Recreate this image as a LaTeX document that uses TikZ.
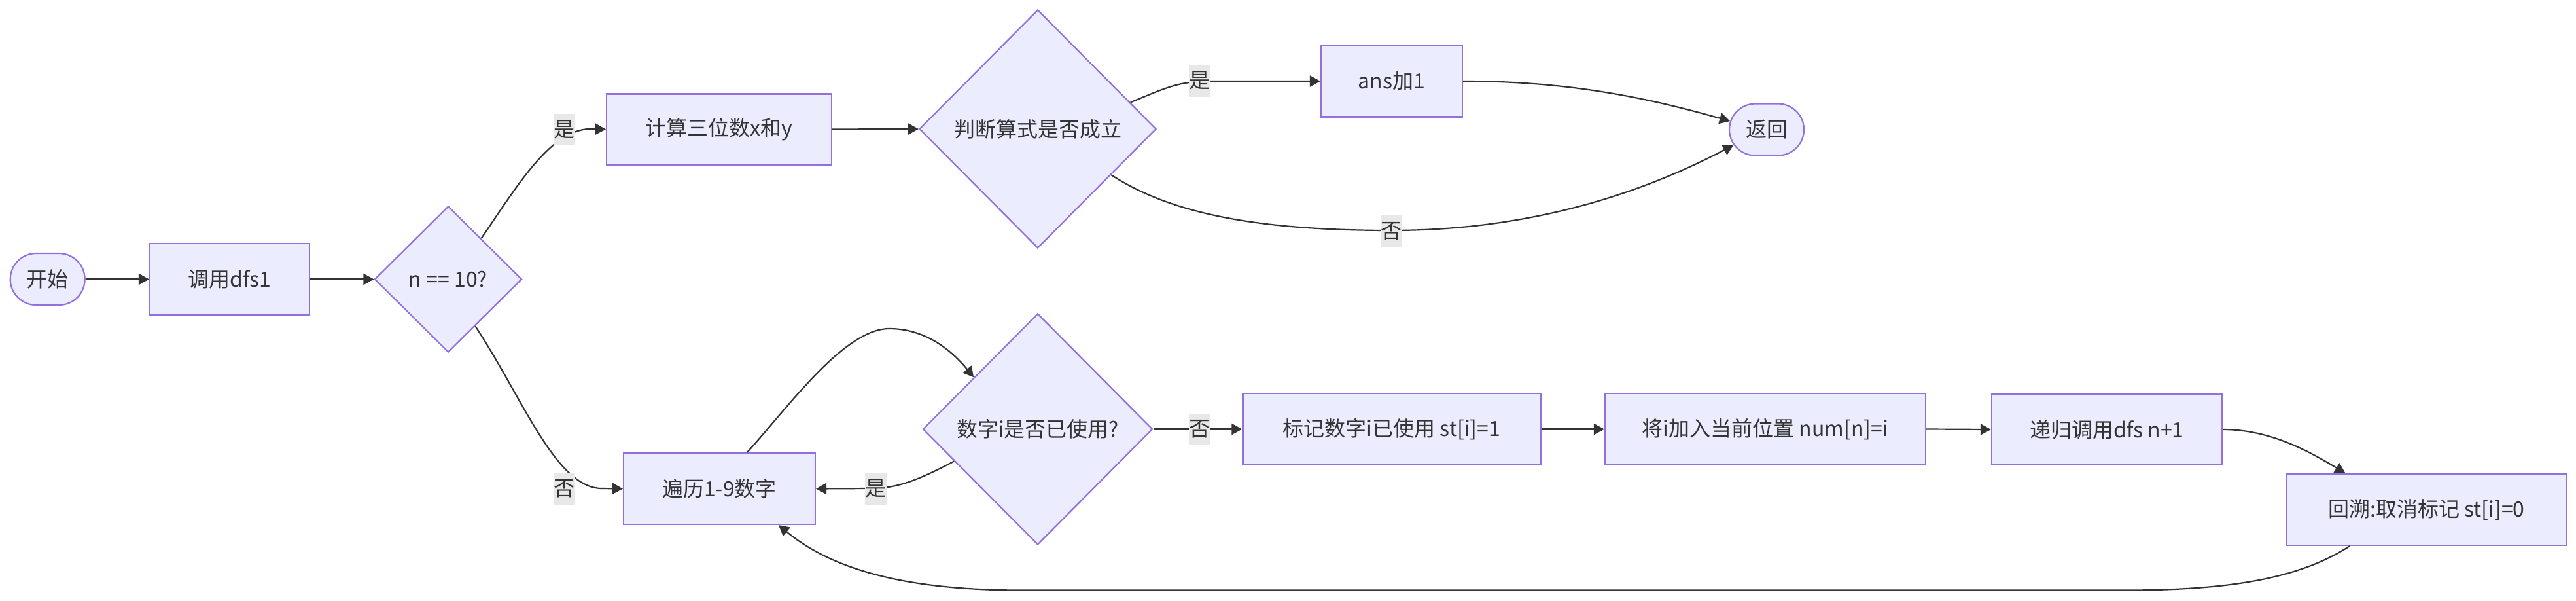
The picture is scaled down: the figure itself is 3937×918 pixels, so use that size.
\documentclass[tikz,border=0pt]{standalone}
\usepackage{fontspec}
\setmainfont{Noto Sans CJK SC}
\usetikzlibrary{shapes.geometric,shapes.misc,arrows.meta}
\definecolor{nodefill}{HTML}{ECECFF}
\definecolor{nodeborder}{HTML}{9370DB}
\definecolor{edgecol}{HTML}{333333}
\definecolor{lblbg}{HTML}{E8E8E8}
\begin{document}
\begin{tikzpicture}[x=1pt,y=-1pt,
  txt/.style={text=edgecol, font=\fontsize{32}{38}\selectfont},
  base/.style={txt, draw=nodeborder, fill=nodefill, line width=2.2pt, inner sep=0pt},
  proc/.style={base, rectangle},
  term/.style={base, rounded rectangle, minimum width=114pt, minimum height=79pt},
  decision/.style={base, diamond},
  conn/.style={draw=edgecol, line width=2.2pt, -{Triangle[length=16pt,width=17pt]}},
  lbl/.style={txt, fill=lblbg, inner sep=0pt, minimum width=33pt, minimum height=48pt}]
\fill[white] (0,0) rectangle (3937,918);
\useasboundingbox (0,0) rectangle (3937,918);

% nodes
\node[term] (start) at (72.7,426.5) {开始};
\node[proc, minimum width=244pt, minimum height=109pt] (call) at (351,426.5) {调用dfs1};
\node[decision, minimum width=225pt, minimum height=223pt] (d1) at (685,426.5) {n == 10?};
\node[proc, minimum width=344pt, minimum height=108pt] (calc) at (1099,197.5) {计算三位数x和y};
\node[decision, minimum width=362pt, minimum height=364pt] (d2) at (1586,197) {判断算式是否成立};
\node[proc, minimum width=216pt, minimum height=109pt] (ans) at (2127,124) {ans加1};
\node[term] (ret) at (2700,198) {返回};
\node[proc, minimum width=293pt, minimum height=109pt] (loop) at (1099.5,746.5) {遍历1-9数字};
\node[decision, minimum width=351pt, minimum height=353pt] (d3) at (1586,655.5) {数字i是否已使用?};
\node[proc, minimum width=455pt, minimum height=109pt] (mark) at (2127,655.5) {标记数字i已使用 st[i]=1};
\node[proc, minimum width=490pt, minimum height=109pt] (put) at (2698,655.5) {将i加入当前位置 num[n]=i};
\node[proc, minimum width=352pt, minimum height=108pt] (rec) at (3220,656) {递归调用dfs n+1};
\node[proc, minimum width=427pt, minimum height=109pt] (back) at (3708.5,778.5) {回溯:取消标记 st[i]=0};

% connectors
\draw[conn] (start.east) -- (call.west);
\draw[conn] (call.east) -- (d1.west);
\draw[conn] (d1.51) .. controls (790,285) and (840,200) .. (900,197) -- (calc.west)
  node[lbl] at (862.5,198) {是};
\draw[conn] (d1.-60) .. controls (800,610) and (850,746) .. (920,746) -- (loop.west)
  node[lbl] at (862.5,746.5) {否};
\draw[conn] (calc.east) -- (d2.west);
\draw[conn] (d2.16) .. controls (1780,135) and (1800,124) .. (1850,124) -- (ans.west)
  node[lbl] at (1833,123.5) {是};
\draw[conn] (ans.east) .. controls (2400,124) and (2520,150) .. (ret.167);
\draw[conn] (d2.-32) .. controls (1780,320) and (1900,352) .. (2126,352)
  .. controls (2330,352) and (2500,300) .. (ret.205)
  node[lbl] at (2126,353) {否};
\draw[conn] ([xshift=42.5pt]loop.north) .. controls (1202,625) and (1290,502) .. (1359,502)
  .. controls (1410,502) and (1450,530) .. (d3.141);
\draw[conn] (d3.201) .. controls (1400,735) and (1370,746) .. (1330,746) -- (loop.east)
  node[lbl] at (1338,746.5) {是};
\draw[conn] (d3.east) -- node[lbl, pos=0.525] {否} (mark.west);
\draw[conn] (mark.east) -- (put.west);
\draw[conn] (put.east) -- (rec.west);
\draw[conn] (rec.east) .. controls (3470,656) and (3530,690) .. ([xshift=-124pt]back.north);
\draw[conn] ([xshift=-117.5pt]back.south) .. controls (3520,880) and (3420,901.5) .. (3250,901.5)
  -- (1560,901.5) .. controls (1360,901.5) and (1260,860) .. ([xshift=90.5pt]loop.south);
\end{tikzpicture}
\end{document}
